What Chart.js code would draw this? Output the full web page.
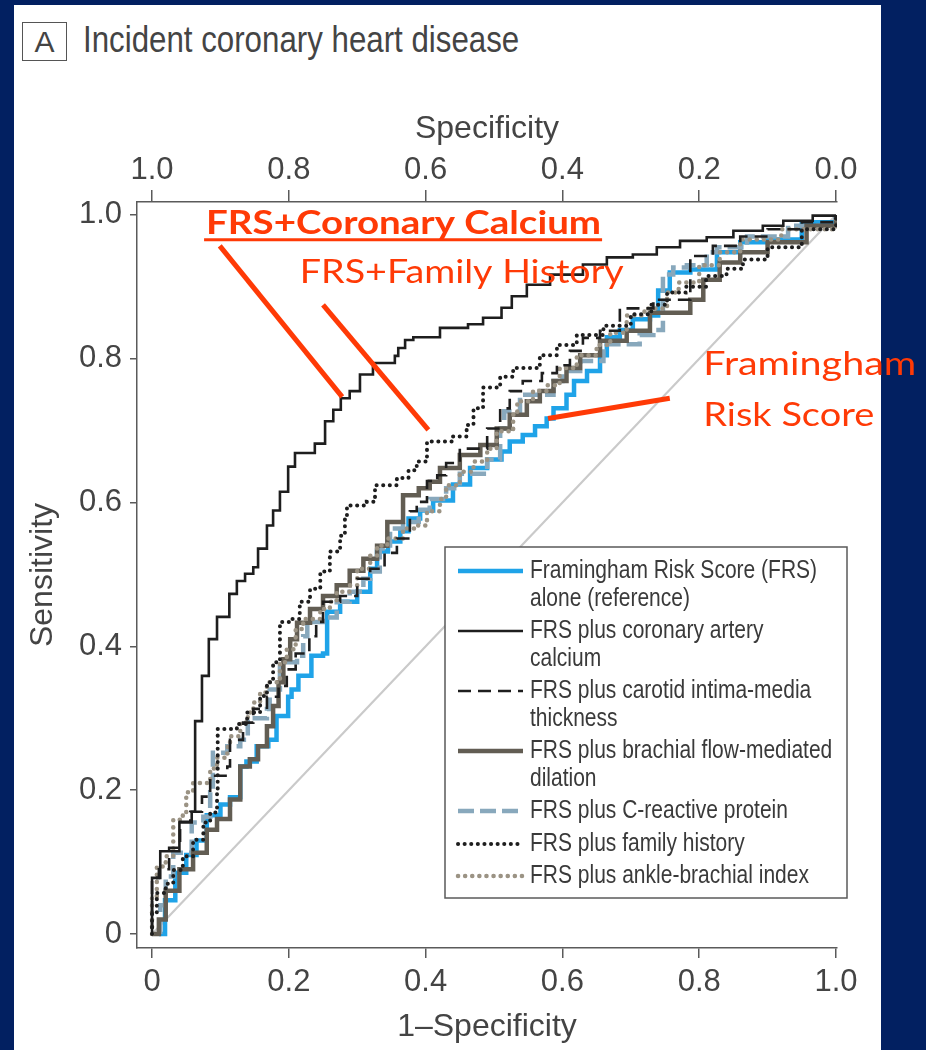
<!DOCTYPE html>
<html>
<head>
<meta charset="utf-8">
<script src="https://cdn.jsdelivr.net/npm/chart.js@4.4.1/dist/chart.umd.min.js"></script>
<style>
  html, body { margin: 0; padding: 0; width: 926px; height: 1050px; overflow: hidden; background: #022061; }
  #panel { position: absolute; left: 14px; top: 5px; width: 867px; height: 1045px; background: #ffffff; }
  #tag { position: absolute; left: 22px; top: 22px; width: 43px; height: 37px; border: 1.5px solid #555;
         display: flex; align-items: center; justify-content: center;
         font: 30px 'Liberation Sans', Arial, sans-serif; color: #444; }
  #title { position: absolute; left: 83px; top: 19px; line-height: 44px; white-space: nowrap;
           font: 37px 'Liberation Sans', Arial, sans-serif; color: #444;
           transform: scaleX(0.845); transform-origin: 0 0; }
  canvas { position: absolute; left: 0; top: 0; }
</style>
</head>
<body>
<div id="panel"></div>
<div id="tag">A</div>
<div id="title">Incident coronary heart disease</div>
<canvas id="roc" width="926" height="1050"></canvas>
<script>
// ---- ROC curves: [1-specificity, sensitivity] ----
const frsAlone = [[0.01,0],[0.019,0.047],[0.034,0.085],[0.05,0.11],[0.065,0.13],[0.08,0.165],[0.10,0.18],[0.114,0.19],[0.129,0.233],[0.138,0.24],[0.153,0.261],[0.17,0.27],[0.182,0.303],[0.199,0.33],[0.204,0.34],[0.214,0.359],[0.233,0.387],[0.25,0.39],[0.256,0.448],[0.275,0.462],[0.3,0.476],[0.319,0.508],[0.329,0.532],[0.345,0.546],[0.363,0.56],[0.375,0.578],[0.392,0.589],[0.411,0.603],[0.44,0.625],[0.465,0.648],[0.49,0.66],[0.511,0.671],[0.523,0.685],[0.542,0.694],[0.56,0.706],[0.577,0.717],[0.587,0.731],[0.606,0.75],[0.617,0.769],[0.636,0.783],[0.655,0.805],[0.665,0.83],[0.684,0.84],[0.703,0.855],[0.728,0.86],[0.74,0.895],[0.757,0.92],[0.787,0.924],[0.826,0.948],[0.86,0.962],[0.9,0.966],[0.95,0.99],[1,1]];
const plusCalcium = [[0,0.01],[0,0.078],[0.012,0.115],[0.04,0.155],[0.058,0.17],[0.063,0.296],[0.073,0.359],[0.083,0.41],[0.095,0.441],[0.113,0.473],[0.124,0.491],[0.136,0.501],[0.148,0.51],[0.155,0.536],[0.168,0.568],[0.177,0.589],[0.187,0.615],[0.199,0.65],[0.209,0.669],[0.238,0.682],[0.253,0.713],[0.265,0.729],[0.276,0.745],[0.289,0.755],[0.304,0.778],[0.323,0.794],[0.355,0.804],[0.36,0.815],[0.37,0.826],[0.382,0.83],[0.421,0.843],[0.462,0.848],[0.484,0.857],[0.511,0.871],[0.526,0.887],[0.548,0.903],[0.582,0.917],[0.63,0.931],[0.665,0.941],[0.703,0.945],[0.738,0.955],[0.772,0.964],[0.811,0.969],[0.85,0.978],[0.893,0.985],[0.923,0.992],[0.966,0.999],[1,1]];
const plusCarotid = [[0,0],[0,0.078],[0.01,0.09],[0.025,0.12],[0.041,0.156],[0.056,0.17],[0.073,0.191],[0.085,0.22],[0.11,0.233],[0.114,0.27],[0.133,0.294],[0.148,0.313],[0.168,0.33],[0.185,0.345],[0.197,0.368],[0.21,0.39],[0.23,0.414],[0.24,0.434],[0.25,0.462],[0.275,0.47],[0.3,0.494],[0.319,0.508],[0.34,0.53],[0.358,0.55],[0.377,0.588],[0.387,0.601],[0.402,0.63],[0.417,0.638],[0.43,0.655],[0.45,0.675],[0.49,0.703],[0.509,0.731],[0.523,0.755],[0.542,0.769],[0.57,0.78],[0.592,0.791],[0.611,0.811],[0.63,0.829],[0.655,0.839],[0.684,0.87],[0.733,0.882],[0.787,0.943],[0.82,0.957],[0.86,0.97],[0.9,0.98],[0.95,0.99],[1,1]];
const plusBrachial = [[0,0],[0.01,0.02],[0.02,0.06],[0.04,0.09],[0.06,0.113],[0.08,0.145],[0.095,0.16],[0.114,0.187],[0.129,0.233],[0.143,0.243],[0.155,0.261],[0.168,0.289],[0.177,0.317],[0.185,0.35],[0.192,0.382],[0.202,0.41],[0.212,0.433],[0.231,0.452],[0.25,0.47],[0.27,0.485],[0.289,0.505],[0.309,0.522],[0.329,0.54],[0.344,0.573],[0.367,0.61],[0.39,0.62],[0.406,0.629],[0.421,0.648],[0.45,0.666],[0.48,0.68],[0.504,0.703],[0.523,0.722],[0.548,0.741],[0.567,0.755],[0.587,0.769],[0.606,0.787],[0.626,0.805],[0.655,0.825],[0.694,0.839],[0.728,0.864],[0.787,0.882],[0.806,0.91],[0.83,0.934],[0.86,0.948],[0.9,0.962],[0.957,0.985],[1,1]];
const plusCrp = [[0.012,0],[0.012,0.04],[0.02,0.08],[0.031,0.113],[0.058,0.155],[0.075,0.163],[0.085,0.197],[0.089,0.252],[0.11,0.261],[0.129,0.27],[0.14,0.3],[0.168,0.313],[0.172,0.34],[0.187,0.378],[0.212,0.387],[0.221,0.414],[0.227,0.434],[0.25,0.44],[0.27,0.462],[0.289,0.476],[0.309,0.494],[0.319,0.504],[0.333,0.536],[0.348,0.564],[0.367,0.573],[0.39,0.59],[0.406,0.605],[0.43,0.62],[0.45,0.64],[0.49,0.66],[0.509,0.703],[0.515,0.727],[0.538,0.75],[0.587,0.769],[0.6,0.783],[0.626,0.797],[0.66,0.82],[0.713,0.833],[0.733,0.84],[0.747,0.885],[0.747,0.917],[0.762,0.927],[0.782,0.93],[0.811,0.948],[0.826,0.955],[0.87,0.97],[0.93,0.985],[1,1]];
const plusFamily = [[0,0],[0,0.03],[0.007,0.057],[0.02,0.07],[0.031,0.089],[0.045,0.108],[0.06,0.131],[0.075,0.155],[0.085,0.169],[0.095,0.2],[0.096,0.285],[0.124,0.292],[0.139,0.308],[0.158,0.331],[0.168,0.35],[0.177,0.378],[0.187,0.434],[0.202,0.438],[0.216,0.462],[0.231,0.48],[0.246,0.504],[0.26,0.532],[0.275,0.554],[0.282,0.582],[0.285,0.596],[0.314,0.601],[0.326,0.624],[0.358,0.634],[0.375,0.645],[0.387,0.657],[0.402,0.685],[0.44,0.692],[0.46,0.708],[0.47,0.731],[0.484,0.76],[0.509,0.775],[0.528,0.787],[0.567,0.805],[0.592,0.819],[0.621,0.833],[0.66,0.846],[0.7,0.862],[0.73,0.875],[0.753,0.892],[0.78,0.9],[0.81,0.915],[0.84,0.925],[0.864,0.938],[0.9,0.955],[0.95,0.98],[1,1]];
const plusAnkle = [[0,0],[0,0.05],[0.007,0.094],[0.02,0.108],[0.031,0.131],[0.031,0.159],[0.045,0.169],[0.05,0.197],[0.06,0.21],[0.085,0.23],[0.095,0.245],[0.11,0.26],[0.114,0.275],[0.129,0.294],[0.14,0.308],[0.148,0.322],[0.158,0.336],[0.168,0.35],[0.187,0.378],[0.197,0.396],[0.21,0.424],[0.221,0.438],[0.246,0.452],[0.26,0.462],[0.27,0.476],[0.289,0.485],[0.3,0.508],[0.319,0.526],[0.329,0.54],[0.344,0.55],[0.367,0.564],[0.387,0.568],[0.402,0.588],[0.421,0.605],[0.43,0.624],[0.45,0.643],[0.47,0.657],[0.49,0.675],[0.504,0.699],[0.528,0.722],[0.534,0.741],[0.557,0.755],[0.577,0.763],[0.596,0.787],[0.621,0.805],[0.65,0.819],[0.67,0.836],[0.694,0.86],[0.72,0.87],[0.753,0.892],[0.77,0.906],[0.8,0.93],[0.83,0.948],[0.86,0.966],[0.92,0.98],[1,1]];
const chanceLine = [[0,0],[1,1]];

// ---- axis ticks ----
const tickValues = [0, 0.2, 0.4, 0.6, 0.8, 1.0];
const fprTickLabels = ['0', '0.2', '0.4', '0.6', '0.8', '1.0'];
const specTickLabels = ['1.0', '0.8', '0.6', '0.4', '0.2', '0.0'];
const sensTickLabels = ['0', '0.2', '0.4', '0.6', '0.8', '1.0'];

// ---- legend text ----
const legendLabels = [
  ['Framingham Risk Score (FRS)', 'alone (reference)'],
  ['FRS plus coronary artery', 'calcium'],
  ['FRS plus carotid intima-media', 'thickness'],
  ['FRS plus brachial flow-mediated', 'dilation'],
  ['FRS plus C-reactive protein'],
  ['FRS plus family history'],
  ['FRS plus ankle-brachial index']
];

const SANS = "'Liberation Sans', Arial, sans-serif";
const AXIS = '#5a5a5a';
const TEXT = '#444444';
const RED = '#ff3a06';

const pts = arr => arr.map(([x, y]) => ({ x, y }));
const curve = (data, color, width, dash, cap, order) => ({
  data: pts(data), borderColor: color, borderWidth: width, borderDash: dash,
  borderCapStyle: cap, borderJoinStyle: 'miter', stepped: 'before', order,
  pointRadius: 0, fill: false, xAxisID: 'x', yAxisID: 'y'
});

const datasets = [
  curve(frsAlone,     '#1fa3e8', 4.5, [],         'butt',  7),
  curve(plusCalcium,  '#1e1e1e', 2.6, [],         'butt',  1),
  curve(plusCarotid,  '#1e1e1e', 2.6, [13, 7],    'butt',  3),
  curve(plusBrachial, '#625d53', 4.5, [],         'butt',  5),
  curve(plusCrp,      '#88a8bc', 4.5, [16, 6],    'butt',  6),
  curve(plusFamily,   '#1e1e1e', 4,   [0.1, 6.5], 'round', 2),
  curve(plusAnkle,    '#9b9384', 4.5, [0.1, 7],   'round', 4),
  { data: pts(chanceLine), borderColor: '#cacaca', borderWidth: 2.2, order: 10,
    pointRadius: 0, fill: false, xAxisID: 'x', yAxisID: 'y' }
];

// legend box and annotation layout (pixels relative to the plot area)
const legendBox = { dx: 308, dy: 345, w: 402, h: 351, sampleX: 13, sampleLen: 65, textX: 85, lineGap: 28,
                    textScale: 0.84, rows: [24, 84, 144, 204, 264, 297, 329] };

const annotations = {
  texts: [
    { text: 'FRS+Coronary Calcium', at: [0.079, 0.973], width: 395, font: "bold 33px Lato, 'Open Sans', sans-serif", underline: true },
    { text: 'FRS+Family History',   at: [0.216, 0.906], width: 324, font: "33px Lato, 'Open Sans', sans-serif" },
    { text: 'Framingham',           at: [0.806, 0.777], width: 213, font: "33px Lato, 'Open Sans', sans-serif" },
    { text: 'Risk Score',           at: [0.806, 0.706], width: 171, font: "33px Lato, 'Open Sans', sans-serif" }
  ],
  pointers: [
    [[0.099, 0.957], [0.278, 0.747]],
    [[0.250, 0.875], [0.404, 0.701]],
    [[0.579, 0.717], [0.757, 0.745]]
  ]
};

const overlay = {
  id: 'overlay',
  afterDatasetsDraw(chart) {
    const { ctx, chartArea: a } = chart;
    const L = legendBox;
    const x0 = a.left + L.dx, y0 = a.top + L.dy;
    ctx.save();
    ctx.fillStyle = '#ffffff';
    ctx.fillRect(x0, y0, L.w, L.h);
    ctx.strokeStyle = AXIS; ctx.lineWidth = 1.5;
    ctx.strokeRect(x0, y0, L.w, L.h);
    ctx.font = '25px ' + SANS;
    ctx.fillStyle = '#3a3a3a';
    ctx.textBaseline = 'middle';
    legendLabels.forEach((lines, i) => {
      const ds = chart.data.datasets[i];
      const y = y0 + L.rows[i];
      ctx.save();
      ctx.strokeStyle = ds.borderColor; ctx.lineWidth = ds.borderWidth;
      ctx.setLineDash(ds.borderDash || []); ctx.lineCap = ds.borderCapStyle || 'butt';
      ctx.beginPath(); ctx.moveTo(x0 + L.sampleX, y); ctx.lineTo(x0 + L.sampleX + L.sampleLen, y); ctx.stroke();
      ctx.restore();
      lines.forEach((t, j) => {
        ctx.save();
        ctx.translate(x0 + L.textX, y + j * L.lineGap);
        ctx.scale(L.textScale, 1);
        ctx.fillText(t, 0, 0);
        ctx.restore();
      });
    });
    ctx.restore();
  },
  afterDraw(chart) {
    const { ctx } = chart;
    const xs = chart.scales.x, ys = chart.scales.y;
    const P = ([x, y]) => [xs.getPixelForValue(x), ys.getPixelForValue(y)];
    ctx.save();
    ctx.strokeStyle = RED; ctx.fillStyle = RED; ctx.lineWidth = 5; ctx.lineCap = 'butt';
    annotations.pointers.forEach(([p, q]) => {
      const [x1, y1] = P(p), [x2, y2] = P(q);
      ctx.beginPath(); ctx.moveTo(x1, y1); ctx.lineTo(x2, y2); ctx.stroke();
    });
    ctx.textBaseline = 'alphabetic';
    annotations.texts.forEach(t => {
      const [x, y] = P(t.at);
      ctx.font = t.font;
      const w = ctx.measureText(t.text).width;
      ctx.save();
      ctx.translate(x, y); ctx.scale(t.width / w, 1);
      ctx.fillText(t.text, 0, 0);
      ctx.restore();
      if (t.underline) {
        ctx.lineWidth = 3;
        ctx.beginPath(); ctx.moveTo(x - 2, y + 5.5); ctx.lineTo(x + t.width + 1, y + 5.5); ctx.stroke();
        ctx.lineWidth = 5;
      }
    });
    ctx.restore();
  }
};

const tickFont = { family: SANS, size: 31 };
const titleFont = { family: SANS, size: 32 };
const gridOpts = (len) => ({ display: true, drawOnChartArea: false, drawTicks: true, tickLength: len, color: AXIS, lineWidth: 1.5 });
const borderOpts = { display: true, color: AXIS, width: 1.5 };
const setTicks = s => { s.ticks = tickValues.map(v => ({ value: v })); };

new Chart(document.getElementById('roc'), {
  type: 'line',
  data: { datasets },
  options: {
    responsive: false, animation: false, devicePixelRatio: 1,
    layout: { padding: { left: 0, right: 89, top: 0, bottom: 0 } },
    plugins: { legend: { display: false }, tooltip: { enabled: false }, title: { display: false } },
    scales: {
      x: {
        type: 'linear', position: 'bottom', min: -0.022, max: 1.0015,
        afterBuildTicks: setTicks, afterFit: s => { s.height = 102; },
        grid: gridOpts(10), border: borderOpts,
        ticks: { font: tickFont, color: TEXT, padding: 6, maxRotation: 0, callback: (v, i) => fprTickLabels[i] },
        title: { display: true, text: '1\u2013Specificity', font: titleFont, color: TEXT, padding: { top: 0, bottom: 4 } }
      },
      xTop: {
        type: 'linear', position: 'top', min: -0.022, max: 1.0015,
        afterBuildTicks: setTicks, afterFit: s => { s.height = 202; },
        grid: gridOpts(12), border: borderOpts,
        ticks: { font: tickFont, color: TEXT, padding: 1, maxRotation: 0, callback: (v, i) => specTickLabels[i] },
        title: { display: true, text: 'Specificity', font: titleFont, color: TEXT, padding: { top: 110, bottom: 0 } }
      },
      y: {
        type: 'linear', position: 'left', min: -0.0195, max: 1.018,
        afterBuildTicks: setTicks, afterFit: s => { s.width = 137; },
        grid: gridOpts(7), border: borderOpts,
        ticks: { font: tickFont, color: TEXT, padding: 8, callback: (v, i) => sensTickLabels[i] },
        title: { display: true, text: 'Sensitivity', font: titleFont, color: TEXT, padding: { top: 24, bottom: 0 } }
      }
    }
  },
  plugins: [overlay]
});
</script>
</body>
</html>
